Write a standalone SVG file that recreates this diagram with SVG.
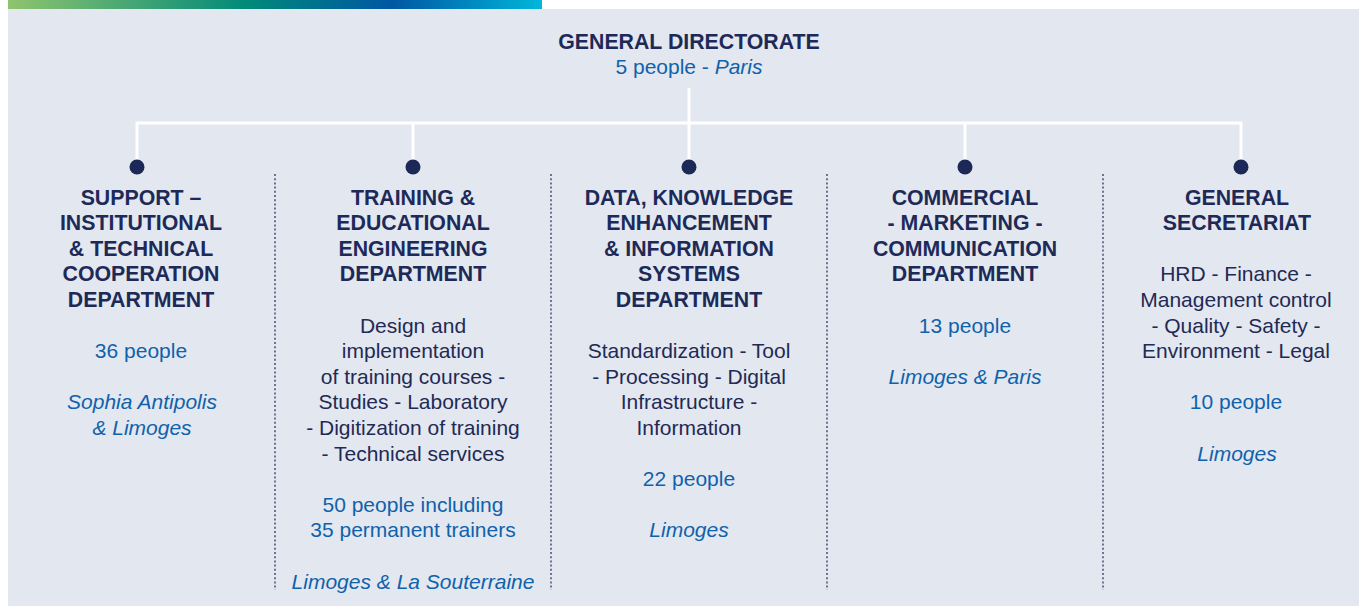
<svg xmlns="http://www.w3.org/2000/svg" width="1359" height="606" viewBox="0 0 1359 606">
<defs>
<linearGradient id="bar" x1="0" y1="0" x2="1" y2="0">
<stop offset="0" stop-color="#8FC46E"/>
<stop offset="0.45" stop-color="#00897A"/>
<stop offset="0.72" stop-color="#0057A3"/>
<stop offset="1" stop-color="#00B7DA"/>
</linearGradient>
</defs>
<style>
text{font-family:"Liberation Sans",Arial,sans-serif;font-size:21px;text-anchor:middle}
.t{font-weight:bold;fill:#1D2A58;font-size:21.3px}
.d{fill:#1F2A55}
.b{fill:#0F62AB}
.i{fill:#0F62AB;font-style:italic}
.con{stroke:#FFFFFF;stroke-width:3;fill:none}
.sep{stroke:#6E7391;stroke-width:2;stroke-dasharray:2 2.2}
.dot{fill:#1C2957}
</style>
<rect x="0" y="0" width="1359" height="606" fill="#FFFFFF"/>
<rect x="8" y="9" width="1351" height="597" fill="#E3E7F0"/>
<rect x="8" y="0" width="534" height="9" fill="url(#bar)"/>
<g id="separators">
<line class="sep" x1="275" y1="174" x2="275" y2="590"/>
<line class="sep" x1="551" y1="174" x2="551" y2="590"/>
<line class="sep" x1="827" y1="174" x2="827" y2="590"/>
<line class="sep" x1="1103" y1="174" x2="1103" y2="590"/>
</g>
<g id="connectors">
<path class="con" d="M689 88V123M137 167V123H1241V167M413 123V167M689 123V167M965 123V167"/>
</g>
<g id="general-directorate">
<text class="t" x="689" y="48.5">GENERAL DIRECTORATE</text>
<text class="b" x="689" y="73.5">5 people - <tspan font-style="italic">Paris</tspan></text>
</g>
<g id="support">
<circle class="dot" cx="137" cy="167" r="7.5"/>
<text class="t" x="141" y="204.5">SUPPORT –</text>
<text class="t" x="141" y="230.1">INSTITUTIONAL</text>
<text class="t" x="141" y="255.7">&amp; TECHNICAL</text>
<text class="t" x="141" y="281.3">COOPERATION</text>
<text class="t" x="141" y="306.9">DEPARTMENT</text>
<text class="b" x="141" y="358.1">36 people</text>
<text class="i" x="142" y="409.3">Sophia Antipolis</text>
<text class="i" x="142" y="434.9">&amp; Limoges</text>
</g>
<g id="training">
<circle class="dot" cx="413" cy="167" r="7.5"/>
<text class="t" x="413" y="204.5">TRAINING &amp;</text>
<text class="t" x="413" y="230.1">EDUCATIONAL</text>
<text class="t" x="413" y="255.7">ENGINEERING</text>
<text class="t" x="413" y="281.3">DEPARTMENT</text>
<text class="d" x="413" y="332.5">Design and</text>
<text class="d" x="413" y="358.1">implementation</text>
<text class="d" x="413" y="383.7">of training courses -</text>
<text class="d" x="413" y="409.3">Studies - Laboratory</text>
<text class="d" x="413" y="434.9">- Digitization of training</text>
<text class="d" x="413" y="460.5">- Technical services</text>
<text class="b" x="413" y="511.7">50 people including</text>
<text class="b" x="413" y="537.3">35 permanent trainers</text>
<text class="i" x="413" y="588.5">Limoges &amp; La Souterraine</text>
</g>
<g id="data">
<circle class="dot" cx="689" cy="167" r="7.5"/>
<text class="t" x="689" y="204.5">DATA, KNOWLEDGE</text>
<text class="t" x="689" y="230.1">ENHANCEMENT</text>
<text class="t" x="689" y="255.7">&amp; INFORMATION</text>
<text class="t" x="689" y="281.3">SYSTEMS</text>
<text class="t" x="689" y="306.9">DEPARTMENT</text>
<text class="d" x="689" y="358.1">Standardization - Tool</text>
<text class="d" x="689" y="383.7">- Processing - Digital</text>
<text class="d" x="689" y="409.3">Infrastructure -</text>
<text class="d" x="689" y="434.9">Information</text>
<text class="b" x="689" y="486.1">22 people</text>
<text class="i" x="689" y="537.3">Limoges</text>
</g>
<g id="commercial">
<circle class="dot" cx="965" cy="167" r="7.5"/>
<text class="t" x="965" y="204.5">COMMERCIAL</text>
<text class="t" x="965" y="230.1">- MARKETING -</text>
<text class="t" x="965" y="255.7">COMMUNICATION</text>
<text class="t" x="965" y="281.3">DEPARTMENT</text>
<text class="b" x="965" y="332.5">13 people</text>
<text class="i" x="965" y="383.7">Limoges &amp; Paris</text>
</g>
<g id="secretariat">
<circle class="dot" cx="1241" cy="167" r="7.5"/>
<text class="t" x="1237" y="204.5">GENERAL</text>
<text class="t" x="1237" y="230.1">SECRETARIAT</text>
<text class="d" x="1236" y="281.3">HRD - Finance -</text>
<text class="d" x="1236" y="306.9">Management control</text>
<text class="d" x="1236" y="332.5">- Quality - Safety -</text>
<text class="d" x="1236" y="358.1">Environment - Legal</text>
<text class="b" x="1236" y="409.3">10 people</text>
<text class="i" x="1237" y="460.5">Limoges</text>
</g>
</svg>
